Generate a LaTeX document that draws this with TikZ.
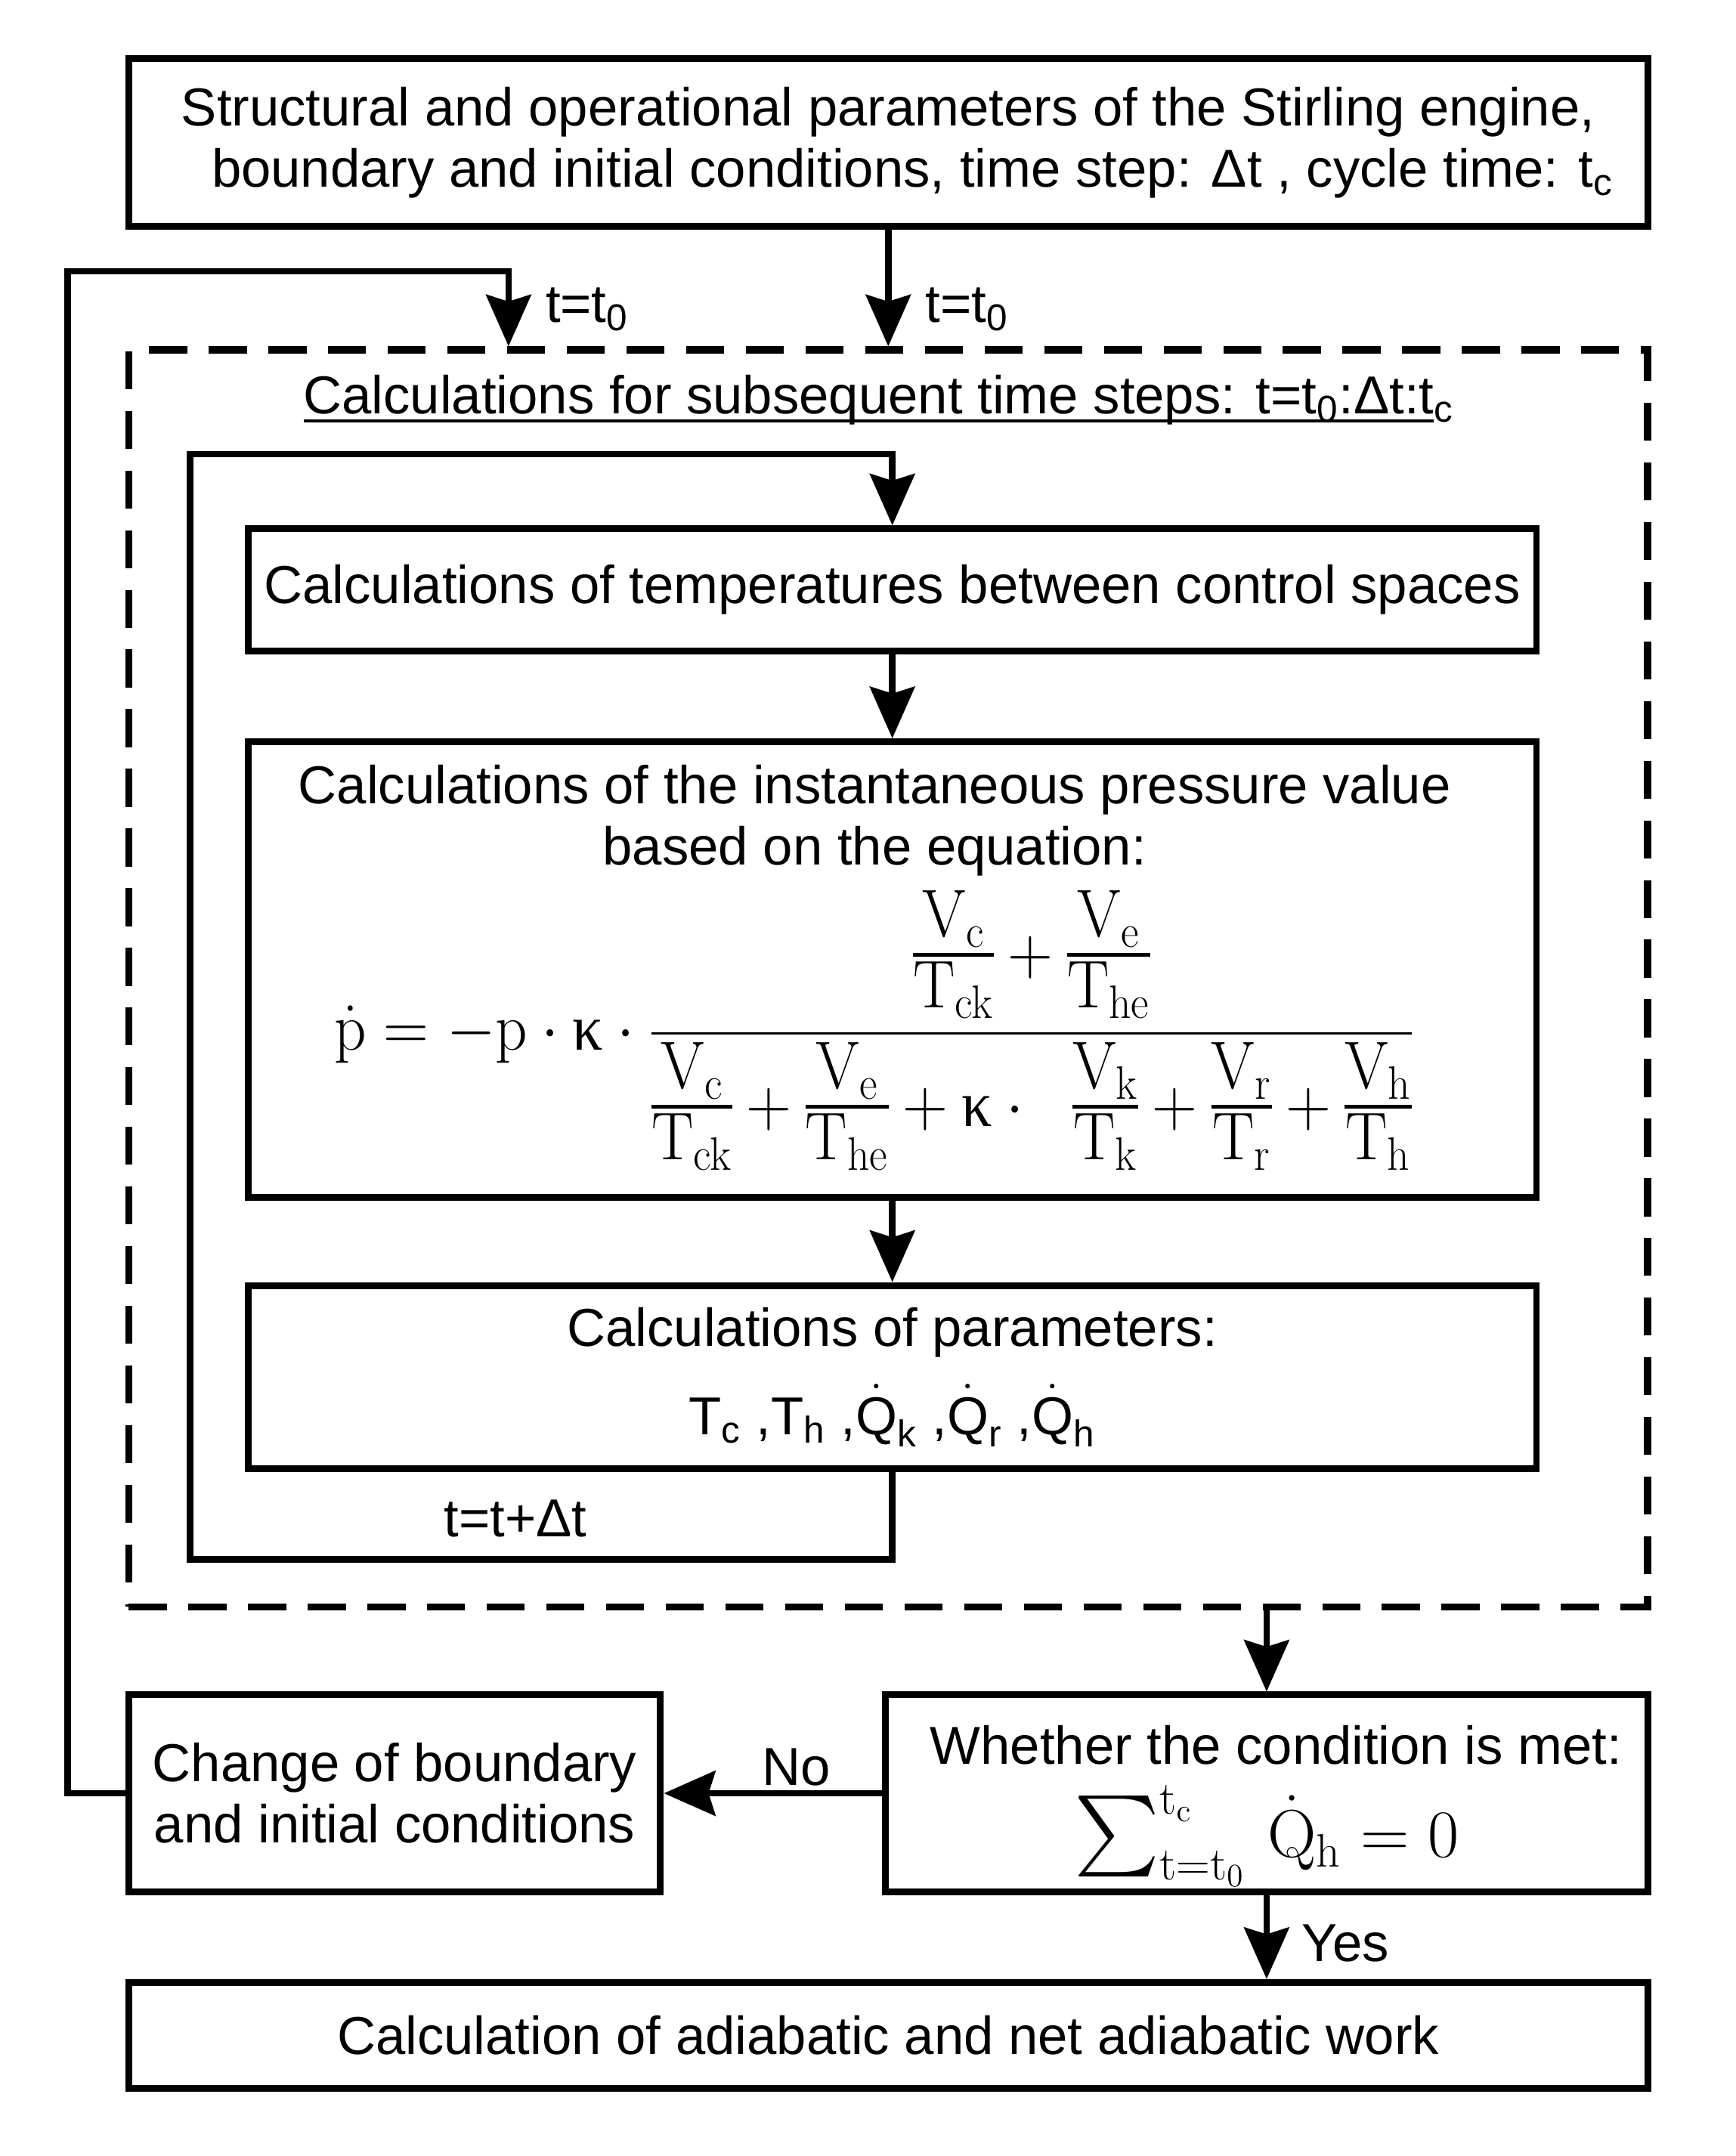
\documentclass[tikz,border=0pt]{standalone}
\usepackage{amsmath}
\usepackage{graphicx}
\usepackage[no-math]{fontspec}
\setmainfont{Liberation Sans}
\newfontfamily\grk{Liberation Serif}
\usetikzlibrary{arrows.meta}
\newcommand{\kap}{\text{\grk κ}}
\newcommand{\fr}[2]{{\renewcommand{\arraystretch}{0.7}\setlength{\arrayrulewidth}{1.3pt}\begin{array}{@{}c@{}}#1\\\hline\rule{0pt}{19pt}#2\end{array}}}
\newsavebox{\ulbox}
\newcommand{\ulin}[1]{\sbox{\ulbox}{#1}\rlap{\rule[-3.2pt]{\wd\ulbox}{1.1pt}}\usebox{\ulbox}}
\begin{document}
\begin{tikzpicture}[
  x=0.5pt, y=-0.5pt,
  txt/.style={font=\fontsize{19.7}{22.5}\selectfont, inner sep=0pt, align=center},
  box/.style={draw, line width=2.5pt, inner sep=0pt, align=center, font=\fontsize{19.7}{22.5}\selectfont},
  conn/.style={line width=2.4pt, -{Stealth[length=19pt,width=16.5pt,inset=2.5pt]}},
  dashbox/.style={draw, line width=2.6pt, dash pattern=on 14pt off 8pt},
]
\useasboundingbox[fill=white] (0,0) rectangle (1280,1590);

\node[box, minimum width=560pt, minimum height=62pt] (top) at (655,105)
  {Structural and operational parameters of the Stirling engine,\\\hspace*{18pt}boundary and initial conditions, time step: Δt , cycle time: t$_\text{c}$};

\node[dashbox, minimum width=560pt, minimum height=463.5pt] (calc) at (655,721.5) {};
\node[txt] (title) at (648,295) {\ulin{Calculations for subsequent time steps: t=t$_\text{0}$:Δt:t}$_\text{c}$};

\node[box, minimum width=475pt, minimum height=45pt] (b1) at (658,435) {Calculations of temperatures between control spaces};

\node[box, minimum width=475pt, minimum height=168pt] (b2) at (658,715) {};
\node[txt] (b2t) at (645,605) {Calculations of the instantaneous pressure value\\based on the equation:};
\node[inner sep=0pt] (eq) at (645,762) {\fontsize{24}{28}\selectfont\scalebox{0.93}[1]{$\displaystyle
  \dot{\mathrm{p}} = -\mathrm{p}\cdot\kap\cdot
  \frac{\fr{\mathrm{V_c}}{\mathrm{T_{ck}}}+\fr{\mathrm{V_e}}{\mathrm{T_{he}}}}
       {\fr{\mathrm{V_c}}{\mathrm{T_{ck}}}+\fr{\mathrm{V_e}}{\mathrm{T_{he}}}+\kap\cdot\;\;\fr{\mathrm{V_k}}{\mathrm{T_k}}+\fr{\mathrm{V_r}}{\mathrm{T_r}}+\fr{\mathrm{V_h}}{\mathrm{T_h}}}$}};

\node[box, minimum width=475pt, minimum height=67.5pt] (b3) at (658,1015.5)
  {Calculations of parameters:\\[9pt]T$_\text{c}$ ,T$_\text{h}$ ,$\dot{\text{Q}}_\text{k}$ ,$\dot{\text{Q}}_\text{r}$ ,$\dot{\text{Q}}_\text{h}$};

\node[box, minimum width=281pt, minimum height=72.5pt] (cond) at (934,1322.5) {};
\node[txt] (condt) at (941,1287) {Whether the condition is met:};
\node[inner sep=0pt] (condeq) at (934,1354) {\fontsize{24}{28}\selectfont$\mathop{\scalebox{1.2}{$\textstyle\sum$}}\nolimits_{\mathrm{t=t_0}}^{\mathrm{t_c}}\,\dot{\mathrm{Q}}_\mathrm{h}=0$};

\node[box, minimum width=196pt, minimum height=72.5pt] (chg) at (291,1322.5) {Change of boundary\\and initial conditions};

\node[box, minimum width=560pt, minimum height=39pt] (fin) at (655,1501) {Calculation of adiabatic and net adiabatic work};

\coordinate (lt) at (50,200);
\coordinate (ltr) at (375,200);
\coordinate (ib) at (140,1150);
\coordinate (it) at (140,335);

\draw[conn] (top.south) -- (top.south |- calc.north);
\draw[conn] (chg.west) -| (lt) -| (calc.north -| ltr);
\draw[conn] (b3.south) |- (ib) -- (it) -| (b1.north);
\draw[conn] (b1.south) -- (b2.north);
\draw[conn] (b2.south) -- (b3.north);
\draw[conn] (cond.north |- calc.south) -- (cond.north);
\draw[conn] (cond.west) -- (chg.east);
\draw[conn] (cond.south) -- (cond.south |- fin.north);

\node[txt, anchor=west] (lab1) at (402,228) {t=t$_\text{0}$};
\node[txt, anchor=west] (lab2) at (682,228) {t=t$_\text{0}$};
\node[txt] (lab3) at (380,1120) {t=t+Δt};
\node[txt] (lab4) at (587,1303) {No};
\node[txt] (lab5) at (992,1433) {Yes};
\end{tikzpicture}
\end{document}
